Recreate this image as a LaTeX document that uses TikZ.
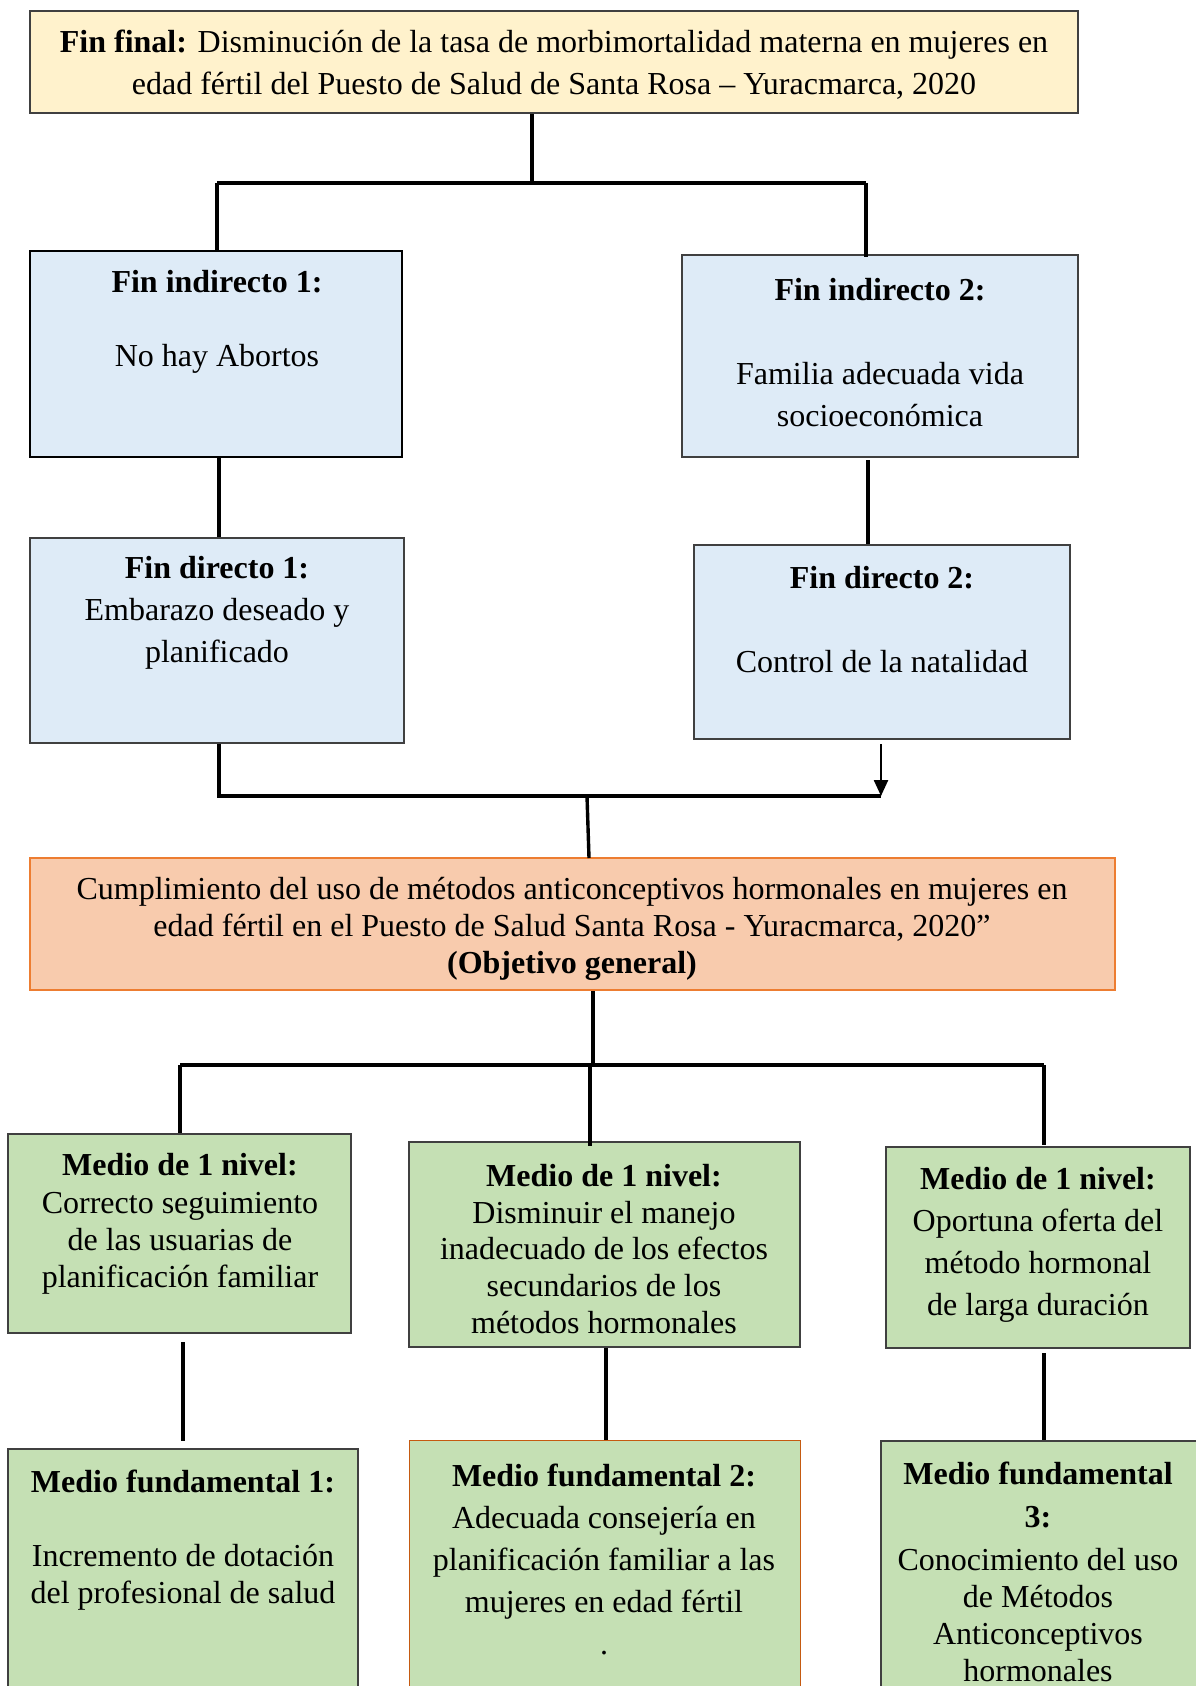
\documentclass[tikz,border=0pt]{standalone}
\usepackage{fontspec}
\setmainfont{Liberation Serif}
\usetikzlibrary{fit,arrows.meta}
\definecolor{cYel}{HTML}{FFF2CC}
\definecolor{cBlue}{HTML}{DEEBF7}
\definecolor{cGreen}{HTML}{C5E0B4}
\definecolor{cPeach}{HTML}{F8CBAD}
\definecolor{cOrange}{HTML}{ED7D31}
\definecolor{cBrown}{HTML}{C55A11}
\definecolor{cEdge}{HTML}{404040}
\begin{document}
\begin{tikzpicture}[x=0.5pt,y=-0.5pt,
  box/.style={draw=cEdge,line width=0.7pt,inner sep=0pt},
  txt/.style={align=center,inner sep=0pt,yshift=-1.5pt,font=\fontsize{16}{18.5}\selectfont},
  txtw/.style={align=center,inner sep=0pt,yshift=-1.5pt,font=\fontsize{16}{21}\selectfont},
  conn/.style={line width=1.7pt,black}]
\useasboundingbox[fill=white] (0,0) rectangle (1195,1686);

% boxes
\node[box,fill=cYel,fit={(30,11) (1078,113)}] (ff) {};
\node[box,fill=cBlue,draw=black,line width=1.3pt,fit={(30,251) (402,457)}] (fi1) {};
\node[box,fill=cBlue,fit={(682,255) (1078,457)}] (fi2) {};
\node[box,fill=cBlue,fit={(30,538) (404,743)}] (fd1) {};
\node[box,fill=cBlue,fit={(694,545) (1070,739)}] (fd2) {};
\node[box,fill=cPeach,draw=cOrange,line width=1pt,fit={(30,858) (1115,990)}] (obj) {};
\node[box,fill=cGreen,fit={(8,1134) (351,1333)}] (m1) {};
\node[box,fill=cGreen,fit={(409,1142) (800,1347)}] (m2) {};
\node[box,fill=cGreen,fit={(886,1147) (1190,1348)}] (m3) {};
\node[box,fill=cGreen,fit={(8,1449) (358,1700)}] (mf1) {};
\node[box,fill=cGreen,draw=cBrown,line width=0.5pt,fit={(409,1440) (800,1700)}] (mf2) {};
\node[box,fill=cGreen,fit={(881,1441) (1200,1700)}] (mf3) {};

% texts
\node[txtw] (ff-t) at (554,62) {\textbf{Fin final:} Disminución de la tasa de morbimortalidad materna en mujeres en\\edad fértil del Puesto de Salud de Santa Rosa – Yuracmarca, 2020};
\node[txt] (fi1-t) at (217,319) {\textbf{Fin indirecto 1:}\\[18.5pt]No hay Abortos};
\node[txtw] (fi2-t) at (880,350) {\textbf{Fin indirecto 2:}\\[21pt]Familia adecuada vida\\socioeconómica};
\node[txtw] (fd1-t) at (217,610) {\textbf{Fin directo 1:}\\Embarazo deseado y\\planificado};
\node[txtw] (fd2-t) at (882,617) {\textbf{Fin directo 2:}\\[21pt]Control de la natalidad};
\node[txt] (obj-t) at (572,926) {Cumplimiento del uso de métodos anticonceptivos hormonales en mujeres en\\edad fértil en el Puesto de Salud Santa Rosa - Yuracmarca, 2020”\\\textbf{(Objetivo general)}};
\node[txt,font=\fontsize{16}{18.7}\selectfont] (m1-t) at (180,1221) {\textbf{Medio de 1 nivel:}\\Correcto seguimiento\\de las usuarias de\\planificación familiar};
\node[txt,font=\fontsize{16}{18.4}\selectfont] (m2-t) at (604,1246) {\textbf{Medio de 1 nivel:}\\Disminuir el manejo\\inadecuado de los efectos\\secundarios de los\\métodos hormonales};
\node[txtw] (m3-t) at (1038,1242) {\textbf{Medio de 1 nivel:}\\Oportuna oferta del\\método hormonal\\de larga duración};
\node[txt] (mf1-t) at (183,1537) {\textbf{Medio fundamental 1:}\\[18.5pt]Incremento de dotación\\del profesional de salud};
\node[txtw] (mf2-t) at (604,1556) {\textbf{Medio fundamental 2:}\\Adecuada consejería en\\planificación familiar a las\\mujeres en edad fértil\\.};
\node[txt] (mf3-t) at (1038,1569) {\textbf{Medio fundamental}\\[3pt]\textbf{3:}\\[3pt]Conocimiento del uso\\de Métodos\\Anticonceptivos\\hormonales};

% connectors
\coordinate (a0) at (532,183);
\coordinate (aL) at (217,183);
\coordinate (aR) at (866,183);
\draw[conn] (ff.south -| a0) -- (a0);
\draw[conn] (aL) -- (aR);
\draw[conn] (aL) -- (fi1.north -| aL);
\draw[conn] (aR) -- ([yshift=-1.5pt]fi2.north -| aR);

\coordinate (b1) at (219,457);
\coordinate (b2) at (868,460);
\draw[conn] (fi1.south -| b1) -- (fd1.north -| b1);
\draw[conn] (b2) -- (fd2.north -| b2);

\coordinate (c1) at (219,796);
\coordinate (c2) at (881,796);
\coordinate (c3) at (881,744);
\coordinate (c4) at (587,796);
\coordinate (c5) at (589,858);
\draw[conn] (fd1.south -| c1) -- (c1) -- (c2);
\draw[line width=1.2pt,-{Triangle[width=7pt,length=8pt]}] (c3) -- (c2);
\draw[conn] (c4) -- (c5);

\coordinate (d0) at (593,1065);
\coordinate (dL) at (180,1065);
\coordinate (dR) at (1044,1065);
\coordinate (dM) at (590,1065);
\draw[conn] (obj.south -| d0) -- (d0);
\draw[conn] (dL) -- (dR);
\draw[conn] (dL) -- (m1.north -| dL);
\draw[conn] (dM) -- ([yshift=-2.5pt]m2.north -| dM);
\draw[conn] (dR) -- (1044,1145);

\coordinate (e1t) at (183,1342);
\coordinate (e2t) at (606,1347);
\coordinate (e3t) at (1044,1353);
\draw[conn] (e1t) -- (183,1441);
\draw[conn] (m2.south -| e2t) -- (mf2.north -| e2t);
\draw[conn] (e3t) -- (mf3.north -| e3t);
\end{tikzpicture}
\end{document}
